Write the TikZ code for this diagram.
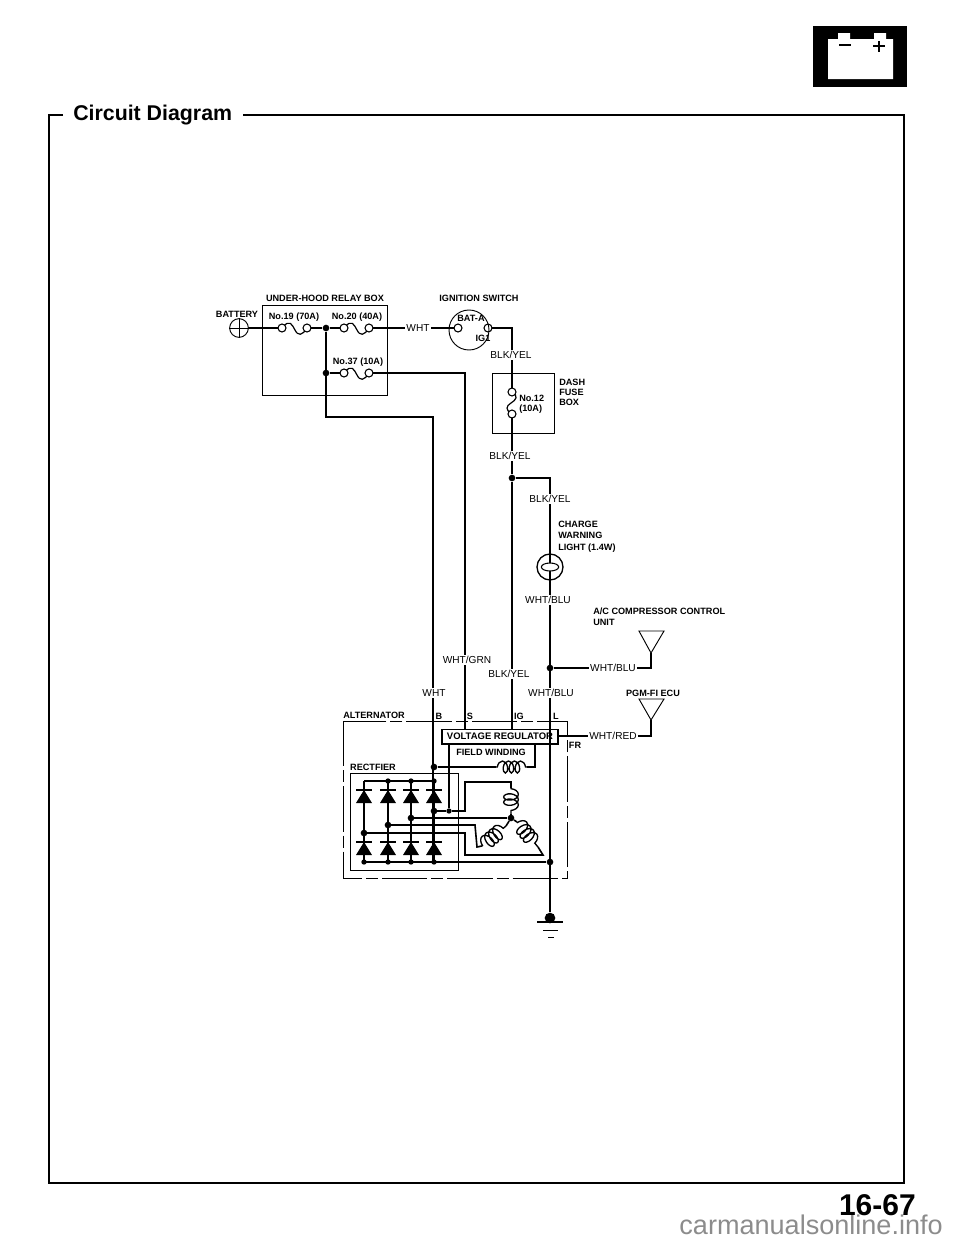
\documentclass[tikz,border=0pt]{standalone}
\usepackage{fontspec}
\setmainfont{Liberation Sans}
\usetikzlibrary{decorations.pathmorphing, shapes.geometric}
\tikzset{
  wire/.style = {line width=1.2pt},
  thinbox/.style = {line width=0.7pt},
  dashbox/.style = {line width=0.7pt, dash pattern=on 34pt off 3pt on 9pt off 3pt},
  term/.style = {draw, line width=0.8pt, fill=white, circle, inner sep=0pt, minimum size=6pt},
  dot/.style = {fill, circle, inner sep=0pt, minimum size=5pt},
  lbl/.style = {font=\fontsize{6.85}{7.6}\selectfont\bfseries, inner sep=0pt, align=left},
  wirelbl/.style = {font=\fontsize{7.6}{9}\selectfont, fill=white, inner sep=1pt},
  fusecurve/.style = {line width=0.9pt},
  coil/.style = {line width=1pt, decorate, decoration={coil, amplitude=4.5pt, segment length=4.5pt, aspect=0.6, pre length=1pt, post length=1pt}},
  bigcoil/.style = {line width=1pt, decorate, decoration={coil, amplitude=5.5pt, segment length=3.9pt, aspect=0.6, pre length=0.5pt, post length=0.5pt}}
}
\begin{document}
\begin{tikzpicture}[x=0.75pt, y=-0.75pt]
\useasboundingbox (0,0) rectangle (960,1242);

% frame and title
\coordinate (fa) at (63,115);
\coordinate (fb) at (49,115);
\coordinate (fc) at (49,1183);
\coordinate (fd) at (904,1183);
\coordinate (fe) at (904,115);
\coordinate (ff) at (243,115);
\draw [line width=1pt] (fa) -- (fb) -- (fc) -- (fd) -- (fe) -- (ff);
\node (title) [anchor=west, inner sep=0pt, font=\fontsize{16}{18}\selectfont\bfseries] at (73,115.5) {Circuit Diagram};
\node (site) [anchor=base east, inner sep=0pt, text=black!45, font=\fontsize{20.3}{24}\selectfont] at (943,1234) {carmanualsonline.info};
\node (page) [anchor=base east, inner sep=0pt, font=\fontsize{22.5}{26}\selectfont\bfseries] at (916,1215) {16-67};

% battery icon
\fill (813,26) rectangle (907,87);
\fill [white] (828,39) rectangle (893,79) (838,33) rectangle (850,39) (874,33) rectangle (886,39);
\draw [line width=1.6pt] (839,45) -- (851,45) (873,46) -- (885,46) (879,41) -- (879,52);

% points
\coordinate (batt) at (239,328);
\coordinate (fuseA) at (282,328);
\coordinate (fuseB) at (307,328);
\node (jmain) [dot] at (326,328) {};
\coordinate (fuseC) at (344,328);
\coordinate (fuseD) at (369,328);
\coordinate (swA) at (458,328);
\coordinate (swB) at (488,328);
\coordinate (swC) at (512,328);
\coordinate (fuseE) at (512,392);
\coordinate (fuseF) at (512,414);
\node (jsplit) [dot] at (512,478) {};
\coordinate (lampin) at (550,478);
\node (jrelay) [dot] at (326,373) {};
\coordinate (fuseG) at (344,373);
\coordinate (fuseH) at (369,373);
\coordinate (sa) at (465,373);
\coordinate (sb) at (465,729);
\coordinate (ba) at (326,417);
\coordinate (bb) at (433,417);
\coordinate (igb) at (512,729);
\node (gnd) [dot, minimum size=8pt] at (550,918) {};
\node (jl) [dot] at (550,668) {};
\node (jbot) [dot] at (550,862) {};

% boxes
\draw [thinbox] (262,305) rectangle (387,395);
\draw [thinbox] (492,373) rectangle (554,433);
\draw [dashbox] (343,721) rectangle (567,878);
\draw [thinbox] (350,773) rectangle (458,870);

% wires top
\draw [wire] (batt) -- (fuseA) (fuseB) -- (jmain) -- (fuseC) (fuseD) -- (swA);
\draw [wire] (swB) -- (swC) -- (fuseE) (fuseF) -- (jsplit) -- (lampin) -- (gnd);
\draw [wire] (jmain) -- (ba) -- (bb) -- (433,862);
\draw [wire] (jrelay) -- (fuseG) (fuseH) -- (sa) -- (sb);
\draw [wire] (jsplit) -- (igb);
\draw [wire] (jl) -- (651,668) -- (651,653);
\draw [wire] (558,736) -- (651,736) -- (651,720);

% fuses
\draw [fusecurve] (fuseA) .. controls (290,318) and (292,325) .. (295,330) .. controls (298,336) and (302,336) .. (fuseB);
\draw [fusecurve] (fuseC) .. controls (352,318) and (354,325) .. (357,330) .. controls (360,336) and (364,336) .. (fuseD);
\draw [fusecurve] (fuseG) .. controls (352,363) and (354,370) .. (357,375) .. controls (360,381) and (364,381) .. (fuseH);
\draw [fusecurve] (fuseE) .. controls (519,396) and (516,400) .. (511,403) .. controls (506,406) and (505,410) .. (fuseF);
\foreach \p in {fuseA,fuseB,fuseC,fuseD,fuseE,fuseF,fuseG,fuseH,swA,swB} {
  \node [term] at (\p) {};
}

% battery and switch
\node (battsym) [draw, circle, thinbox, fill=white, minimum size=14pt, inner sep=0pt] at (batt) {};
\draw [thinbox] (battsym.north) -- (battsym.south) (battsym.west) -- (battsym.east);
\node (ignsw) [draw, circle, thinbox, minimum size=30pt, inner sep=0pt] at (469,330) {};

% lamp
\node (lamp) [draw, circle, line width=1pt, fill=white, minimum size=19.5pt, inner sep=0pt] at (550,567) {};
\draw [wire] (lamp.north) -- (lamp.south);
\node (filament) [draw, ellipse, line width=0.8pt, fill=white, minimum width=13pt, minimum height=6pt, inner sep=0pt] at (lamp.center) {};

% control units
\coordinate (ua) at (639,631);
\coordinate (ub) at (664,631);
\coordinate (uc) at (651,653);
\coordinate (ud) at (639,699);
\coordinate (ue) at (664,699);
\coordinate (uf) at (651,720);
\draw [thinbox] (ua) -- (ub) -- (uc) -- cycle;
\draw [thinbox] (ud) -- (ue) -- (uf) -- cycle;

% regulator
\node (vreg) [draw, line width=1pt, fill=white, minimum width=87pt, minimum height=11pt, inner sep=0pt, font=\fontsize{7.1}{8}\selectfont\bfseries] at (500,736.5) {VOLTAGE REGULATOR};
\draw [wire] (jbot) -- (gnd);
\draw [wire] (550,744) -- (jl);

% rectifier
\node (jfield) [dot] at (434,767) {};
\coordinate (fa1) at (496,767);
\coordinate (fa2) at (527,767);
\coordinate (fa3) at (535,767);
\coordinate (fa4) at (535,744);
\draw [wire] (jfield) -- (fa1) (fa2) -- (fa3) -- (fa4);
\draw [coil] (fa1) -- (fa2);
\draw [wire] (364,781) -- (434,781);
\draw [wire] (364,862) -- (jbot);
\foreach \x/\y in {364/833, 388/825, 411/818, 434/811} {
  \draw [wire] (\x,781) -- (\x,862);
  \fill (\x,790) -- (\x-8,803) -- (\x+8,803) -- cycle;
  \fill (\x,842) -- (\x-8,855) -- (\x+8,855) -- cycle;
  \draw [wire] (\x-8,790) -- (\x+8,790) (\x-8,842) -- (\x+8,842);
  \node [dot] at (\x,\y) {};
  \node [dot, minimum size=4pt] at (\x,862) {};
}
\foreach \x in {388,411,434} {
  \node [dot, minimum size=4pt] at (\x,781) {};
}

% stator
\node (jstar) [dot] at (511,818) {};
\node (jreg) [dot, minimum size=4pt] at (449,811) {};
\coordinate (ca) at (511,788);
\coordinate (cb) at (511,815);
\coordinate (cc) at (482,846);
\coordinate (cd) at (506,826);
\coordinate (ce) at (517,822);
\coordinate (cf) at (538,847);
\draw [wire] (434,811) -- (jreg) -- (449,744);
\draw [wire] (jreg) -- (465,811) -- (465,782) -- (511,782) -- (ca);
\draw [bigcoil] (ca) -- (cb);
\draw [wire] (cb) -- (jstar);
\draw [wire] (411,818) -- (jstar);
\draw [wire] (388,825) -- (475,825) -- (477,847) -- (cc);
\draw [bigcoil] (cc) -- (cd);
\draw [wire] (cd) -- (jstar);
\draw [wire] (jstar) -- (ce);
\draw [bigcoil] (ce) -- (cf);
\draw [wire] (cf) -- (543,855) -- (465,855) -- (465,833) -- (364,833);

% ground
\draw [wire] (537,922) -- (563,922);
\draw [thinbox] (543,930) -- (558,930);
\draw [thinbox] (548,937) -- (554,937);

% wire labels
\node (lwht) [wirelbl] at (418,328) {WHT};
\node (lby1) [wirelbl] at (511,355) {BLK/YEL};
\node (lby2) [wirelbl] at (510,456) {BLK/YEL};
\node (lby3) [wirelbl] at (550,499) {BLK/YEL};
\node (lwb1) [wirelbl] at (548,600) {WHT/BLU};
\node (lwb2) [wirelbl] at (613,668) {WHT/BLU};
\node (lgrn) [wirelbl] at (467,660) {WHT/GRN};
\node (lby4) [wirelbl] at (509,674) {BLK/YEL};
\node (lwht2) [wirelbl] at (434,693) {WHT};
\node (lwb3) [wirelbl] at (551,693) {WHT/BLU};
\node (lred) [wirelbl] at (613,736) {WHT/RED};

% text labels
\node (tbox) [lbl] at (325,298) {UNDER-HOOD RELAY BOX};
\node (tign) [lbl] at (479,298) {IGNITION SWITCH};
\node (tbatt) [lbl] at (237,314) {BATTERY};
\node (t19) [lbl] at (294,317) {No.19 (70A)};
\node (t20) [lbl] at (357,317) {No.20 (40A)};
\node (t37) [lbl] at (358,362) {No.37 (10A)};
\node (tbat) [lbl] at (471,318) {BAT-A};
\node (tig1) [lbl] at (483,338) {IG1};
\node (t12) [lbl, anchor=west] at (519,404.5) {No.12\\(10A)};
\node (tdash) [lbl, anchor=west] at (559,392) {DASH\\FUSE\\BOX};
\node (tlamp) [lbl, anchor=west] at (558,536.5) {CHARGE\\[1pt]WARNING\\[1pt]LIGHT (1.4W)};
\node (tac) [lbl, anchor=west] at (593,616.5) {A/C COMPRESSOR CONTROL\\[0.6pt]UNIT};
\node (tpgm) [lbl] at (653,693) {PGM-FI ECU};
\node (talt) [lbl] at (374,715) {ALTERNATOR};
\node (tb) [lbl] at (439,716) {B};
\node (ts) [lbl] at (470,716) {S};
\node (tig) [lbl] at (519,716) {IG};
\node (tl) [lbl] at (556,716) {L};
\node (tfr) [lbl] at (575,745) {FR};
\node (tfield) [lbl] at (491,752) {FIELD WINDING};
\node (trect) [lbl] at (373,767) {RECTFIER};
\end{tikzpicture}
\end{document}
